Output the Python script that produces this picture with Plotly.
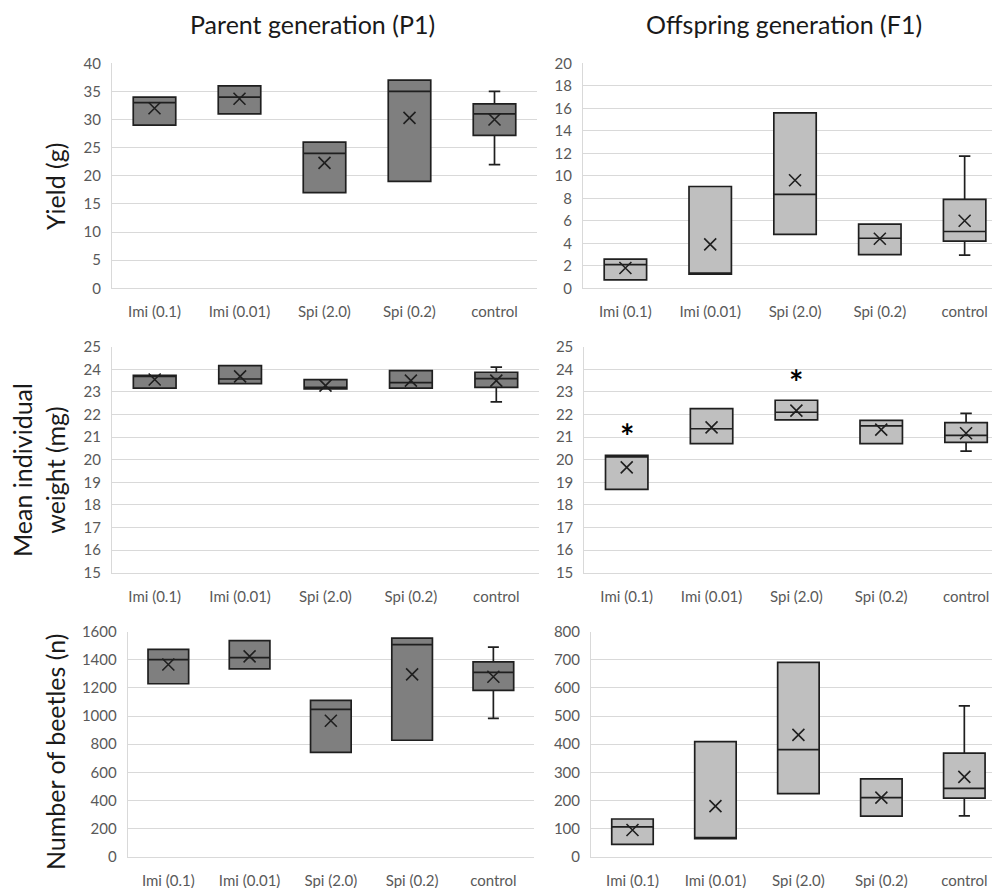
import plotly.graph_objects as go

categories = ["Imi (0.1)", "Imi (0.01)", "Spi (2.0)", "Spi (0.2)", "control"]

# Parent generation (P1) - Yield (g)
p1_yield_q1 = [29.0, 31.0, 17.0, 19.0, 27.2]
p1_yield_med = [33.0, 34.0, 24.0, 35.0, 31.0]
p1_yield_q3 = [34.0, 36.0, 26.0, 37.0, 32.8]
p1_yield_lo = [29.0, 31.0, 17.0, 19.0, 22.0]
p1_yield_hi = [34.0, 36.0, 26.0, 37.0, 35.0]
p1_yield_mean = [32.0, 33.7, 22.3, 30.3, 30.0]

# Offspring generation (F1) - Yield (g)
f1_yield_q1 = [0.75, 1.25, 4.8, 3.0, 4.2]
f1_yield_med = [2.1, 1.35, 8.35, 4.45, 5.05]
f1_yield_q3 = [2.6, 9.05, 15.6, 5.7, 7.9]
f1_yield_lo = [0.75, 1.25, 4.8, 3.0, 2.95]
f1_yield_hi = [2.6, 9.05, 15.6, 5.7, 11.75]
f1_yield_mean = [1.8, 3.9, 9.6, 4.4, 6.0]

# P1 - Mean individual weight (mg)
p1_weight_q1 = [23.17, 23.37, 23.13, 23.17, 23.2]
p1_weight_med = [23.7, 23.57, 23.2, 23.41, 23.59]
p1_weight_q3 = [23.73, 24.16, 23.54, 23.94, 23.87]
p1_weight_lo = [23.17, 23.37, 23.13, 23.17, 22.56]
p1_weight_hi = [23.73, 24.16, 23.54, 23.94, 24.1]
p1_weight_mean = [23.55, 23.69, 23.28, 23.5, 23.5]

# F1 - Mean individual weight (mg)
f1_weight_q1 = [18.69, 20.71, 21.76, 20.71, 20.77]
f1_weight_med = [20.12, 21.37, 22.1, 21.5, 21.08]
f1_weight_q3 = [20.19, 22.26, 22.63, 21.74, 21.64]
f1_weight_lo = [18.69, 20.71, 21.76, 20.71, 20.38]
f1_weight_hi = [20.19, 22.26, 22.63, 21.74, 22.05]
f1_weight_mean = [19.66, 21.43, 22.17, 21.33, 21.17]
f1_weight_signif = ["Imi (0.1)", "Spi (2.0)"]
f1_weight_signif_y = [21.35, 23.78]

# P1 - Number of beetles (n)
p1_count_q1 = [1230, 1335, 742, 828, 1183]
p1_count_med = [1401, 1415, 1048, 1508, 1311]
p1_count_q3 = [1475, 1536, 1112, 1555, 1385]
p1_count_lo = [1230, 1335, 742, 828, 984]
p1_count_hi = [1475, 1536, 1112, 1555, 1491]
p1_count_mean = [1367, 1425, 967, 1297, 1280]

# F1 - Number of beetles (n)
f1_count_q1 = [44, 64, 224, 144, 208]
f1_count_med = [106, 66, 381, 210, 243]
f1_count_q3 = [134, 409, 691, 277, 368]
f1_count_lo = [44, 64, 224, 144, 145]
f1_count_hi = [134, 409, 691, 277, 536]
f1_count_mean = [95, 180, 433, 210, 284]

# page is shown with the default 8px body margin; size the figure to fill the window
OFF = 8
W, H = 1000 - OFF, 888 - OFF


def fx(px):
    return (px - OFF) / W


def fy(py):
    return 1 - (py - OFF) / H


FONT = "Lato"
DARK_FILL = "#7f7f7f"
LIGHT_FILL = "#bfbfbf"
EDGE = "#1f1f1f"
GRID = "#d9d9d9"
TICK = "#595959"

# panel: (q1, med, q3, lo, hi, mean, fill, x_px, y_px, yrange, dtick, xmax)
panels = [
    (p1_yield_q1, p1_yield_med, p1_yield_q3, p1_yield_lo, p1_yield_hi, p1_yield_mean,
     DARK_FILL, (112, 537), (63.3, 288.3), (0, 40), 5, 4.5),
    (f1_yield_q1, f1_yield_med, f1_yield_q3, f1_yield_lo, f1_yield_hi, f1_yield_mean,
     LIGHT_FILL, (583, 1000), (63.3, 288.3), (0, 20), 2, 4.417),
    (p1_weight_q1, p1_weight_med, p1_weight_q3, p1_weight_lo, p1_weight_hi, p1_weight_mean,
     DARK_FILL, (112, 539), (346.7, 572.7), (15, 25), 1, 4.5),
    (f1_weight_q1, f1_weight_med, f1_weight_q3, f1_weight_lo, f1_weight_hi, f1_weight_mean,
     LIGHT_FILL, (584.3, 1000), (346.7, 572.7), (15, 25), 1, 4.40),
    (p1_count_q1, p1_count_med, p1_count_q3, p1_count_lo, p1_count_hi, p1_count_mean,
     DARK_FILL, (127.7, 534), (631.7, 856.7), (0, 1600), 200, 4.5),
    (f1_count_q1, f1_count_med, f1_count_q3, f1_count_lo, f1_count_hi, f1_count_mean,
     LIGHT_FILL, (591, 1000), (631.7, 856.7), (0, 800), 100, 4.43),
]

fig = go.Figure()
layout = dict(
    width=W, height=H,
    margin=dict(l=0, r=0, t=0, b=0, pad=0, autoexpand=False),
    paper_bgcolor="white", plot_bgcolor="white",
    showlegend=False,
    font=dict(family=FONT, color=TICK),
)

for i, (q1, med, q3, lo, hi, mean, fill, xpx, ypx, yr, dt, xmax) in enumerate(panels, start=1):
    xa = "x" if i == 1 else f"x{i}"
    ya = "y" if i == 1 else f"y{i}"
    fig.add_trace(go.Box(
        x=categories, q1=q1, median=med, q3=q3, lowerfence=lo, upperfence=hi,
        fillcolor=fill, line=dict(color=EDGE, width=1.7),
        width=0.5, whiskerwidth=0.27, boxpoints=False, hoverinfo="skip",
        xaxis=xa, yaxis=ya,
    ))
    fig.add_trace(go.Scatter(
        x=categories, y=mean, mode="markers",
        marker=dict(symbol="x-thin", size=12, line=dict(color=EDGE, width=1.6)),
        xaxis=xa, yaxis=ya, hoverinfo="skip",
    ))
    xkey = "xaxis" if i == 1 else f"xaxis{i}"
    ykey = "yaxis" if i == 1 else f"yaxis{i}"
    layout[xkey] = dict(
        domain=[fx(xpx[0]), min(1.0, fx(xpx[1]))], anchor=ya, automargin=False,
        type="category", categoryorder="array", categoryarray=categories,
        range=[-0.5, xmax], showgrid=False, zeroline=False,
        showline=True, linecolor=GRID, linewidth=1,
        ticks="outside", ticklen=10, tickcolor="rgba(0,0,0,0)",
        tickfont=dict(family=FONT, size=15, color=TICK), fixedrange=True,
    )
    layout[ykey] = dict(
        domain=[fy(ypx[1]), fy(ypx[0])], anchor=xa, automargin=False,
        range=list(yr), dtick=dt, tick0=yr[0],
        showgrid=True, gridcolor=GRID, gridwidth=1, zeroline=False,
        showline=True, linecolor=GRID, linewidth=1,
        ticks="outside", ticklen=7, tickcolor="rgba(0,0,0,0)",
        tickfont=dict(family=FONT, size=15, color=TICK), fixedrange=True,
    )

TITLE_FONT = dict(family=FONT, size=25, color="#1a1a1a")
annotations = [
    dict(text="Parent generation (P1)", x=fx(312), y=fy(24), xref="paper", yref="paper",
         showarrow=False, font=TITLE_FONT, xanchor="center", yanchor="middle"),
    dict(text="Offspring generation (F1)", x=fx(784), y=fy(24), xref="paper", yref="paper",
         showarrow=False, font=TITLE_FONT, xanchor="center", yanchor="middle"),
    dict(text="Yield (g)", x=fx(55), y=fy(187), xref="paper", yref="paper",
         showarrow=False, textangle=-90, font=TITLE_FONT, xanchor="center", yanchor="middle"),
    dict(text="Mean individual<br>weight (mg)", x=fx(38), y=fy(470), xref="paper", yref="paper",
         showarrow=False, textangle=-90, font=TITLE_FONT, xanchor="center", yanchor="middle"),
    dict(text="Number of beetles (n)", x=fx(55), y=fy(752), xref="paper", yref="paper",
         showarrow=False, textangle=-90, font=TITLE_FONT, xanchor="center", yanchor="middle"),
]
for cat, yv in zip(f1_weight_signif, f1_weight_signif_y):
    annotations.append(dict(
        text="<b>*</b>", x=cat, y=yv - 0.3, xref="x4", yref="y4", showarrow=False,
        font=dict(family=FONT, size=34, color="#000000"), xanchor="center", yanchor="middle",
    ))
layout["annotations"] = annotations

fig.update_layout(**layout)
fig.write_html("out.html")
